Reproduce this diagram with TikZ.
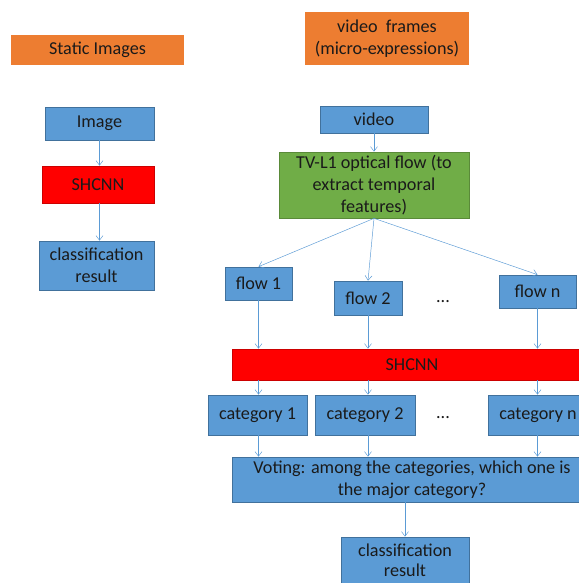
\documentclass[tikz,border=0pt]{standalone}
\usepackage{fontspec}
\setmainfont{Carlito}
\usetikzlibrary{arrows.meta,positioning}
\definecolor{boxblue}{HTML}{5B9BD5}
\definecolor{boxedge}{HTML}{41719C}
\definecolor{headorange}{HTML}{ED7D31}
\definecolor{netred}{HTML}{FF0000}
\definecolor{flowgreen}{HTML}{70AD47}
\definecolor{textdark}{HTML}{1A1A1A}
\tikzset{box/.style={fill=boxblue, draw=boxedge, semithick, text=textdark,
        align=center, inner sep=0pt, font=\fontsize{15.5}{19}\selectfont},
    netbox/.style={box, fill=netred, draw=netred!80!black},
    flowbox/.style={box, fill=flowgreen, draw=flowgreen!80!black},
    headbox/.style={box, fill=headorange, draw=none},
    link/.style={draw=boxblue, thin, -{Straight Barb[length=4pt,width=6pt]}}}

\begin{document}
\begin{tikzpicture}[x=0.03cm, y=-0.03cm]
            \useasboundingbox[fill=white] (0,0) rectangle (578,583);
            % left: static images
            \node[headbox, minimum width=173*0.03cm, minimum height=30*0.03cm] (static) at (97.5,50) {Static Images};
            \node[box, minimum width=109*0.03cm, minimum height=33*0.03cm] (img) at (99.5,123.5) {Image};
            \node[netbox, minimum width=112*0.03cm, minimum height=37*0.03cm] (net) at (98,184.5) {SHCNN};
            \node[box, minimum width=115*0.03cm, minimum height=49*0.03cm] (res) at (96.5,265.5) {classification\\result};
            \draw[link] (img) -- (img |- net.north);
            \draw[link] (net.south -| img) -- (img |- res.north);
            % right: video frames
            \node[headbox, minimum width=164*0.03cm, minimum height=53*0.03cm] (frames) at (387,38.5) {video\ \ frames\\(micro-expressions)};
            \node[box, minimum width=108*0.03cm, minimum height=27*0.03cm] (video) at (374,119.5) {video};
            \node[flowbox, minimum width=190*0.03cm, minimum height=66*0.03cm] (tvl) at (374,185) {TV-L1 optical flow (to\\extract temporal\\features)};
            \draw[link] (video) -- (tvl);
            \node[box, minimum width=67*0.03cm, minimum height=33*0.03cm] (f1) at (258.5,283.5) {flow 1};
            \node[box, minimum width=68*0.03cm, minimum height=34*0.03cm] (f2) at (368,298) {flow 2};
            \node[box, minimum width=77*0.03cm, minimum height=33*0.03cm] (fn) at (537.5,291.5) {flow n};
            \node[box, fill=none, draw=none] (fdots) at (443,302) {...};
            \foreach \f in {f1,f2,fn}
                \draw[link] (tvl.south) -- (\f.north);
            \node[netbox, minimum width=360*0.03cm, minimum height=31*0.03cm] (bignet) at (412,364.5) {SHCNN};
            \node[box, minimum width=99*0.03cm, minimum height=40*0.03cm] (c1) at (257.5,415) {category 1};
            \node[box, minimum width=100*0.03cm, minimum height=40*0.03cm] (c2) at (365,415) {category 2};
            \node[box, minimum width=100*0.03cm, minimum height=40*0.03cm] (cn) at (538,415) {category n};
            \node[box, fill=none, draw=none] (cdots) at (443,418) {...};
            \node[box, minimum width=360*0.03cm, minimum height=45*0.03cm] (vote) at (412,479.5) {Voting: among the categories, which one is\\the major category?};
            \foreach \f/\c in {f1/c1,f2/c2,fn/cn} {
                \draw[link] (\f.south) -- (\f |- bignet.north);
                \draw[link] (\f |- bignet.south) -- (\f |- \c.north);
                \draw[link] (\f |- \c.south) -- (\f |- vote.north);
            }
            \node[box, minimum width=128*0.03cm, minimum height=47*0.03cm, font=\fontsize{15.5}{17}\selectfont] (res2) at (405,560.5) {classification\\result};
            \draw[link] (vote.south -| res2) -- (res2);
        \end{tikzpicture}
\end{document}
